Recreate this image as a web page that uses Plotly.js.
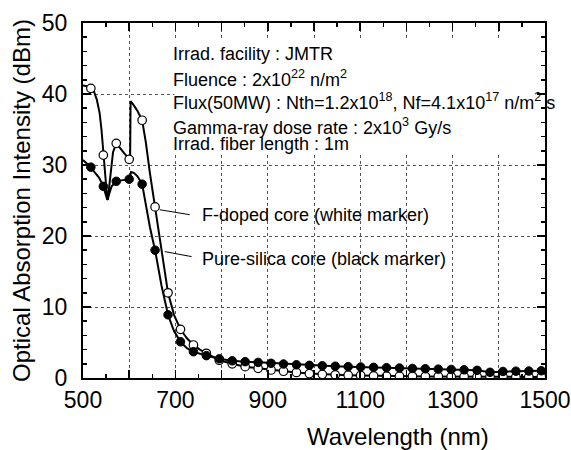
<!DOCTYPE html>
<html>
<head>
<meta charset="utf-8">
<script src="https://cdn.plot.ly/plotly-3.0.1.min.js"></script>
<style>html,body{margin:0;padding:0;background:#fff;}#chart{width:571px;height:450px;}</style>
</head>
<body>
<div id="chart"></div>
<script>
// Marker positions (nm) and values (dBm)
const markerWl = [517, 544, 572, 600, 628, 656, 684, 711, 739, 767, 795, 823, 851, 879, 907, 934, 962, 990, 1018, 1046, 1074, 1101, 1129, 1157, 1185, 1213, 1241, 1269, 1297, 1325, 1353, 1381, 1409, 1437, 1465, 1492];
const fDoped = [40.8, 31.4, 33.05, 30.8, 36.3, 24.1, 12.0, 6.85, 4.65, 3.48, 2.5, 2.0, 1.6, 1.36, 1.13, 0.95, 0.78, 0.62, 0.52, 0.45, 0.4, 0.35, 0.3, 0.27, 0.25, 0.24, 0.22, 0.21, 0.2, 0.19, 0.18, 0.17, 0.16, 0.15, 0.15, 0.14];
const pureSilica = [29.7, 27.0, 27.7, 28.0, 27.3, 18.0, 8.9, 5.1, 3.7, 3.15, 2.7, 2.42, 2.3, 2.2, 2.07, 1.97, 1.86, 1.78, 1.72, 1.66, 1.6, 1.55, 1.5, 1.45, 1.4, 1.35, 1.3, 1.25, 1.2, 1.15, 1.08, 0.8, 0.92, 0.96, 0.98, 1.02];

// Curve detail in the visible band
const fDopedCurveWl = [500, 508, 517, 524, 530, 536, 540, 544, 548, 552, 553.5, 556, 560, 565, 572, 580, 588, 595, 600, 602, 603, 610, 618, 628, 636, 645, 656, 670, 684, 697, 711, 725, 739, 753, 767];
const fDopedCurveY = [41.2, 41.1, 40.8, 40.3, 39.2, 37.3, 35.0, 31.4, 28.0, 25.6, 25.1, 26.5, 29.5, 31.8, 33.05, 32.4, 31.9, 31.2, 30.8, 31.0, 39.0, 38.4, 37.6, 36.3, 33.2, 28.8, 24.1, 17.5, 12.0, 8.9, 6.85, 5.6, 4.65, 4.0, 3.48];
const pureSilicaCurveWl = [500, 508, 517, 525, 535, 544, 548, 552, 553.5, 556, 562, 572, 580, 590, 600, 602, 604, 610, 618, 628, 636, 645, 656, 670, 684, 697, 711, 725, 739, 753, 767];
const pureSilicaCurveY = [30.7, 30.2, 29.7, 29.0, 28.2, 27.0, 26.0, 25.2, 25.1, 25.8, 27.0, 27.7, 27.8, 27.9, 28.0, 28.4, 29.0, 28.9, 28.4, 27.3, 24.5, 21.2, 18.0, 13.0, 8.9, 6.6, 5.1, 4.2, 3.7, 3.4, 3.15];

const xTickVals = [500, 600, 700, 800, 900, 1000, 1100, 1200, 1300, 1400, 1500];
const xTickText = ['500', '', '700', '', '900', '', '1100', '', '1300', '', '1500'];

const xTitle = 'Wavelength (nm)';
const yTitle = 'Optical Absorption Intensity (dBm)';
const infoLines = [
  'Irrad. facility : JMTR',
  'Fluence : 2x10<sup>22</sup> n/m<sup>2</sup>',
  'Flux(50MW) : Nth=1.2x10<sup>18</sup>, Nf=4.1x10<sup>17</sup> n/m<sup>2</sup> s',
  'Gamma-ray dose rate : 2x10<sup>3</sup> Gy/s',
  'Irrad. fiber length : 1m'
];
const infoY = [0.913, 0.843, 0.780, 0.708, 0.658];
const seriesLabels = ['F-doped core (white marker)', 'Pure-silica core (black marker)'];

// tails beyond detailed band
const tailIdx = markerWl.map((w, i) => i).filter(i => markerWl[i] > 767);
const fLineX = fDopedCurveWl.concat(tailIdx.map(i => markerWl[i]));
const fLineY = fDopedCurveY.concat(tailIdx.map(i => fDoped[i]));
const pLineX = pureSilicaCurveWl.concat(tailIdx.map(i => markerWl[i]));
const pLineY = pureSilicaCurveY.concat(tailIdx.map(i => pureSilica[i]));

const traces = [
  {x: fLineX, y: fLineY, mode: 'lines', line: {color: '#000', width: 2}, hoverinfo: 'skip'},
  {x: pLineX, y: pLineY, mode: 'lines', line: {color: '#000', width: 2}, hoverinfo: 'skip'},
  {x: markerWl, y: fDoped, mode: 'markers', marker: {symbol: 'circle', size: 8.5, color: '#fff', line: {color: '#000', width: 1.2}}},
  {x: markerWl, y: pureSilica, mode: 'markers', marker: {symbol: 'circle', size: 8.5, color: '#000', line: {color: '#000', width: 1}}}
];

const FONT = 'Liberation Sans, Arial, Helvetica, sans-serif';
const annotations = infoLines.map((t, i) => ({
  text: t, xref: 'paper', yref: 'paper', x: 0.19, y: infoY[i], xanchor: 'left', yanchor: 'middle',
  showarrow: false, font: {family: FONT, size: 18, color: '#000'}
}));
annotations.push({text: seriesLabels[0], xref: 'paper', yref: 'paper', x: 0.253, y: 0.459, xanchor: 'left', yanchor: 'middle', showarrow: false, font: {family: FONT, size: 18, color: '#000'}});
annotations.push({text: seriesLabels[1], xref: 'paper', yref: 'paper', x: 0.253, y: 0.335, xanchor: 'left', yanchor: 'middle', showarrow: false, font: {family: FONT, size: 18, color: '#000'}});
annotations.push({text: xTitle, xref: 'paper', yref: 'paper', x: 0.682, y: -0.166, xanchor: 'center', yanchor: 'middle', showarrow: false, font: {family: FONT, size: 24, color: '#000'}});

const shapes = [
  {type: 'rect', xref: 'x', yref: 'y', x0: 698, x1: 1500, y0: 31.8, y1: 47.6, fillcolor: '#fff', line: {width: 0}, layer: 'between'},
  {type: 'line', xref: 'x', yref: 'y', x0: 666, y0: 23.7, x1: 731, y1: 23.0, line: {color: '#000', width: 1}},
  {type: 'line', xref: 'x', yref: 'y', x0: 677, y0: 17.8, x1: 735, y1: 17.1, line: {color: '#000', width: 1}}
];

const layout = {
  width: 571, height: 450,
  margin: {l: 83, r: 26, t: 23, b: 72},
  paper_bgcolor: '#fff', plot_bgcolor: '#fff',
  showlegend: false,
  font: {family: FONT, color: '#000'},
  xaxis: {
    range: [500, 1500], tickmode: 'array', tickvals: xTickVals, ticktext: xTickText,
    ticks: 'inside', ticklen: 8, tickwidth: 1.5, tickcolor: '#000',
    showline: true, linewidth: 2, linecolor: '#000', mirror: 'ticks',
    showgrid: true, gridcolor: '#555', griddash: 'dot', gridwidth: 1,
    zeroline: false,
    tickfont: {family: FONT, size: 23, color: '#000'},
    minor: {dtick: 50, ticks: 'inside', ticklen: 4, tickwidth: 1.5, tickcolor: '#000', showgrid: false}
  },
  yaxis: {
    range: [0, 50], dtick: 10, tick0: 0,
    ticks: 'inside', ticklen: 8, tickwidth: 1.5, tickcolor: '#000',
    showline: true, linewidth: 2, linecolor: '#000', mirror: 'ticks',
    showgrid: true, gridcolor: '#555', griddash: 'dot', gridwidth: 1,
    zeroline: false, ticklabelstandoff: 9,
    tickfont: {family: FONT, size: 23, color: '#000'},
    minor: {dtick: 2, ticks: 'inside', ticklen: 4, tickwidth: 1.5, tickcolor: '#000', showgrid: false},
    title: {text: yTitle, font: {family: FONT, size: 24, color: '#000'}, standoff: 4}
  },
  annotations: annotations,
  shapes: shapes
};

Plotly.newPlot('chart', traces, layout, {displayModeBar: false, staticPlot: true});
</script>
</body>
</html>
